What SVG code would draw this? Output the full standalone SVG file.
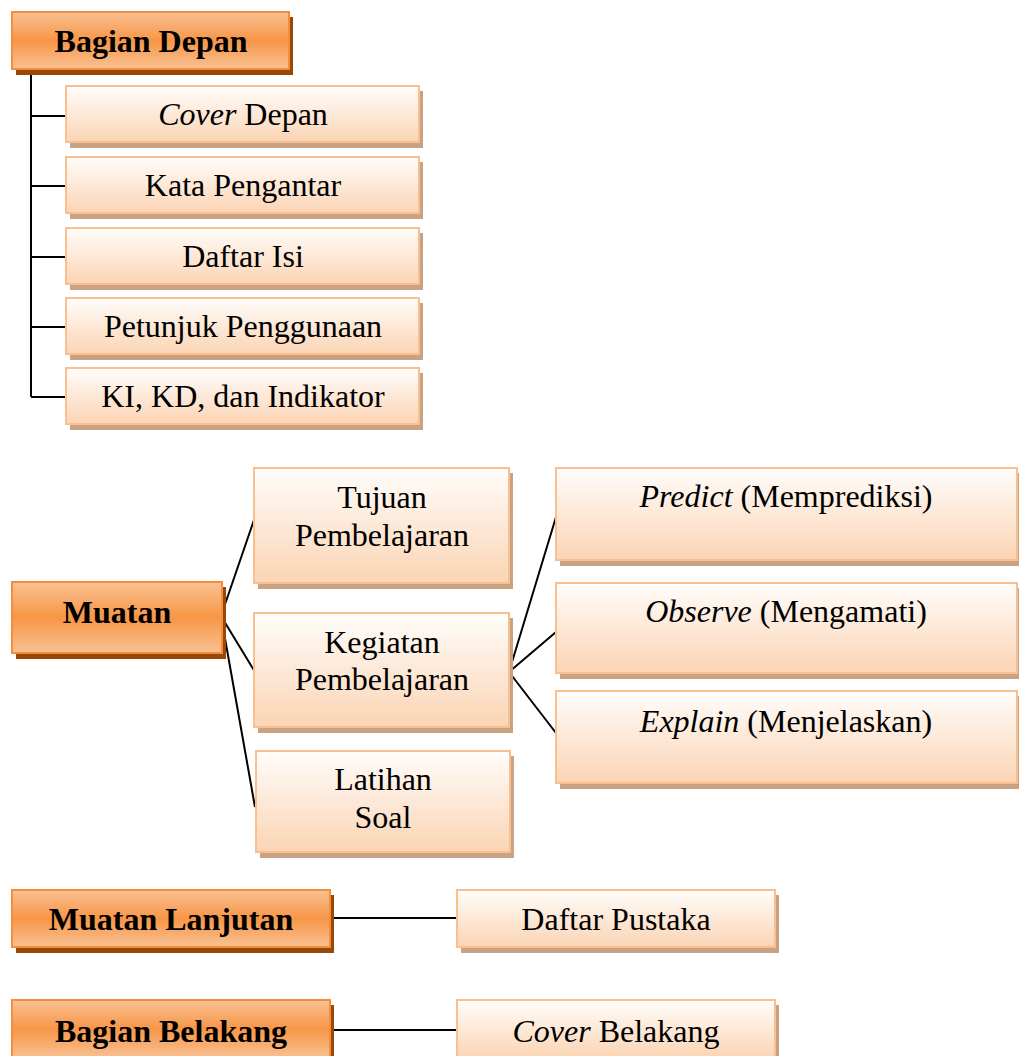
<svg xmlns="http://www.w3.org/2000/svg" width="1019" height="1056" viewBox="0 0 1019 1056">
<defs>
<linearGradient id="gOr" x1="0" y1="0" x2="0" y2="1">
<stop offset="0" stop-color="#f9c194"/>
<stop offset="0.5" stop-color="#f79646"/>
<stop offset="1" stop-color="#f9c194"/>
</linearGradient>
<linearGradient id="gLt" x1="0" y1="0" x2="0" y2="1">
<stop offset="0" stop-color="#fffdfb"/>
<stop offset="1" stop-color="#fbd4b4"/>
</linearGradient>
</defs>
<style>
.or{fill:url(#gOr);stroke:#f68d3a;stroke-width:2}
.orS{fill:#984807}
.lt{fill:url(#gLt);stroke:#fabf8f;stroke-width:2}
.ltS{fill:#c9a283}
.b{font-family:"Liberation Serif","Times New Roman",serif;font-size:32px;font-weight:bold;fill:#000;text-anchor:middle}
.t{font-family:"Liberation Serif","Times New Roman",serif;font-size:32px;fill:#000;text-anchor:middle}
.i{font-style:italic}
.c{stroke:#000;stroke-width:2;fill:none}
</style>
<rect width="1019" height="1056" fill="#fff"/>
<g id="connectors">
<path class="c" d="M31 69V397M31 116H66M31 186H66M31 257H66M31 327H66M31 397H66"/>
<path class="c" d="M221 616L255 517M221 616L255 672M221 616L255 807"/>
<path class="c" d="M509 672L556 517M509 672L556 632M509 672L556 733"/>
<path class="c" d="M330 918H457M330 1030H457"/>
</g>
<g id="bagian-depan">
<rect class="orS" x="16" y="17" width="277" height="58"/>
<rect class="or" x="12" y="12" width="277" height="57"/>
<text class="b" x="151" y="52">Bagian Depan</text>
</g>
<g id="cover-depan">
<rect class="ltS" x="70" y="91" width="353" height="57"/>
<rect class="lt" x="66" y="86" width="353" height="56"/>
<text class="t" x="243" y="125"><tspan class="i">Cover</tspan> Depan</text>
</g>
<g id="kata-pengantar">
<rect class="ltS" x="70" y="162" width="353" height="57"/>
<rect class="lt" x="66" y="157" width="353" height="56"/>
<text class="t" x="243" y="196">Kata Pengantar</text>
</g>
<g id="daftar-isi">
<rect class="ltS" x="70" y="233" width="353" height="57"/>
<rect class="lt" x="66" y="228" width="353" height="56"/>
<text class="t" x="243" y="267">Daftar Isi</text>
</g>
<g id="petunjuk">
<rect class="ltS" x="70" y="303" width="353" height="57"/>
<rect class="lt" x="66" y="298" width="353" height="56"/>
<text class="t" x="243" y="337">Petunjuk Penggunaan</text>
</g>
<g id="ki-kd">
<rect class="ltS" x="70" y="373" width="353" height="57"/>
<rect class="lt" x="66" y="368" width="353" height="56"/>
<text class="t" x="243" y="407">KI, KD, dan Indikator</text>
</g>
<g id="muatan">
<rect class="orS" x="16" y="587" width="210" height="72"/>
<rect class="or" x="12" y="582" width="210" height="71"/>
<text class="b" x="117" y="623">Muatan</text>
</g>
<g id="tujuan">
<rect class="ltS" x="258" y="473" width="255" height="116"/>
<rect class="lt" x="254" y="468" width="255" height="115"/>
<text class="t" x="382" y="508">Tujuan</text>
<text class="t" x="382" y="546">Pembelajaran</text>
</g>
<g id="kegiatan">
<rect class="ltS" x="258" y="618" width="255" height="115"/>
<rect class="lt" x="254" y="613" width="255" height="114"/>
<text class="t" x="382" y="653">Kegiatan</text>
<text class="t" x="382" y="690">Pembelajaran</text>
</g>
<g id="latihan">
<rect class="ltS" x="260" y="756" width="254" height="102"/>
<rect class="lt" x="256" y="751" width="254" height="101"/>
<text class="t" x="383" y="790">Latihan</text>
<text class="t" x="383" y="828">Soal</text>
</g>
<g id="predict">
<rect class="ltS" x="560" y="473" width="459" height="93"/>
<rect class="lt" x="556" y="468" width="461" height="92"/>
<text class="t" x="786" y="507"><tspan class="i">Predict</tspan> (Memprediksi)</text>
</g>
<g id="observe">
<rect class="ltS" x="560" y="588" width="459" height="91"/>
<rect class="lt" x="556" y="583" width="461" height="90"/>
<text class="t" x="786" y="622"><tspan class="i">Observe</tspan> (Mengamati)</text>
</g>
<g id="explain">
<rect class="ltS" x="560" y="696" width="459" height="93"/>
<rect class="lt" x="556" y="691" width="461" height="92"/>
<text class="t" x="786" y="732"><tspan class="i">Explain</tspan> (Menjelaskan)</text>
</g>
<g id="muatan-lanjutan">
<rect class="orS" x="16" y="895" width="318" height="58"/>
<rect class="or" x="12" y="890" width="318" height="57"/>
<text class="b" x="171" y="930">Muatan Lanjutan</text>
</g>
<g id="daftar-pustaka">
<rect class="ltS" x="461" y="895" width="318" height="58"/>
<rect class="lt" x="457" y="890" width="318" height="57"/>
<text class="t" x="616" y="930">Daftar Pustaka</text>
</g>
<g id="bagian-belakang">
<rect class="orS" x="16" y="1005" width="318" height="58"/>
<rect class="or" x="12" y="1000" width="318" height="58"/>
<text class="b" x="171" y="1042">Bagian Belakang</text>
</g>
<g id="cover-belakang">
<rect class="ltS" x="461" y="1005" width="318" height="58"/>
<rect class="lt" x="457" y="1000" width="318" height="58"/>
<text class="t" x="616" y="1042"><tspan class="i">Cover</tspan> Belakang</text>
</g>
</svg>
